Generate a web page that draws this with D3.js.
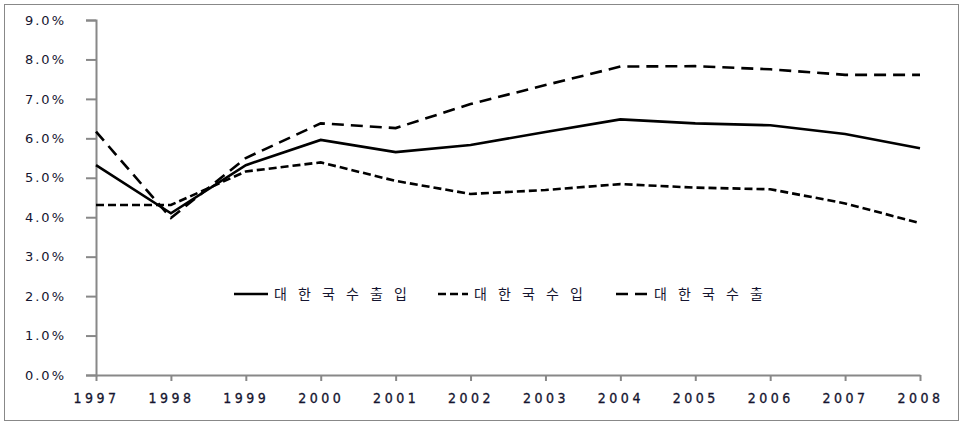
<!DOCTYPE html>
<html><head><meta charset="utf-8">
<script src="https://cdn.jsdelivr.net/npm/d3@7"></script>
<style>body{margin:0;background:#fff}svg{display:block}</style>
</head><body><div id="chart"></div>
<script>
const years = [1997,1998,1999,2000,2001,2002,2003,2004,2005,2006,2007,2008];
const tradeTotal = [5.32,4.10,5.32,5.96,5.65,5.83,6.16,6.48,6.38,6.33,6.11,5.75];
const imports    = [4.31,4.31,5.16,5.39,4.92,4.59,4.69,4.84,4.75,4.71,4.35,3.85];
const exports    = [6.17,3.98,5.50,6.38,6.26,6.87,7.35,7.82,7.83,7.75,7.61,7.61];
const seriesNames = ["대 한 국 수 출 입","대 한 국 수 입","대 한 국 수 출"];
const yTicks = [0,1,2,3,4,5,6,7,8,9];

const W=969,H=429;
const svg=d3.select("#chart").append("svg").attr("width",W).attr("height",H);
svg.append("rect").attr("x",4.5).attr("y",4.5).attr("width",954).attr("height",416)
  .attr("fill","#fff").attr("stroke","#888").attr("stroke-width",1);

const x=d3.scalePoint().domain(years).range([96,920]);
const y=d3.scaleLinear().domain([0,9]).range([375,20]);

const txtColor="#151530";
const yAxis=svg.append("g").attr("transform","translate(96,0)")
  .call(d3.axisLeft(y).tickValues(yTicks).tickSize(10).tickFormat(d=>d3.format(".1f")(d)+"%"));
yAxis.select(".domain").attr("stroke","#888").attr("stroke-width",2);
yAxis.selectAll(".tick line").attr("stroke","#888").attr("stroke-width",2);
yAxis.selectAll("text").attr("x",-30).attr("font-family","DejaVu Sans, Verdana").attr("font-size",13)
  .attr("letter-spacing","2px").attr("fill",txtColor);

const xAxis=svg.append("g").attr("transform","translate(0,375)")
  .call(d3.axisBottom(x).tickSize(6).tickSizeOuter(0));
xAxis.select(".domain").attr("stroke","#888").attr("stroke-width",2);
xAxis.selectAll(".tick line").attr("stroke","#888").attr("stroke-width",2);
xAxis.selectAll("text").attr("y",18).attr("font-family","Liberation Sans Narrow, DejaVu Sans Condensed, Arial").attr("font-size",14)
  .attr("font-weight","normal").attr("letter-spacing","3.5px").attr("fill",txtColor)
  .attr("stroke",txtColor).attr("stroke-width",0.3);

const line=d3.line().x((d,i)=>x(years[i])).y(d=>y(d));
const series=[
  {vals:tradeTotal,dash:null},
  {vals:imports,dash:"8,4"},
  {vals:exports,dash:"12,7"}
];
series.forEach(s=>{
  svg.append("path").datum(s.vals).attr("d",line).attr("fill","none")
    .attr("stroke","#000").attr("stroke-width",2.6)
    .attr("stroke-dasharray",s.dash);
});

const legendX=[234,438,616];
const legendLen=[34,30,32];
series.forEach((s,i)=>{
  svg.append("line").attr("x1",legendX[i]).attr("x2",legendX[i]+legendLen[i])
    .attr("y1",294).attr("y2",294).attr("stroke","#000").attr("stroke-width",2.6)
    .attr("stroke-dasharray",s.dash);
  svg.append("text").attr("x",legendX[i]+legendLen[i]+6).attr("y",299)
    .attr("font-family","Noto Sans CJK KR").attr("font-size",14).attr("fill",txtColor)
    .attr("letter-spacing","4px")
    .text(seriesNames[i]);
});
</script></body></html>
